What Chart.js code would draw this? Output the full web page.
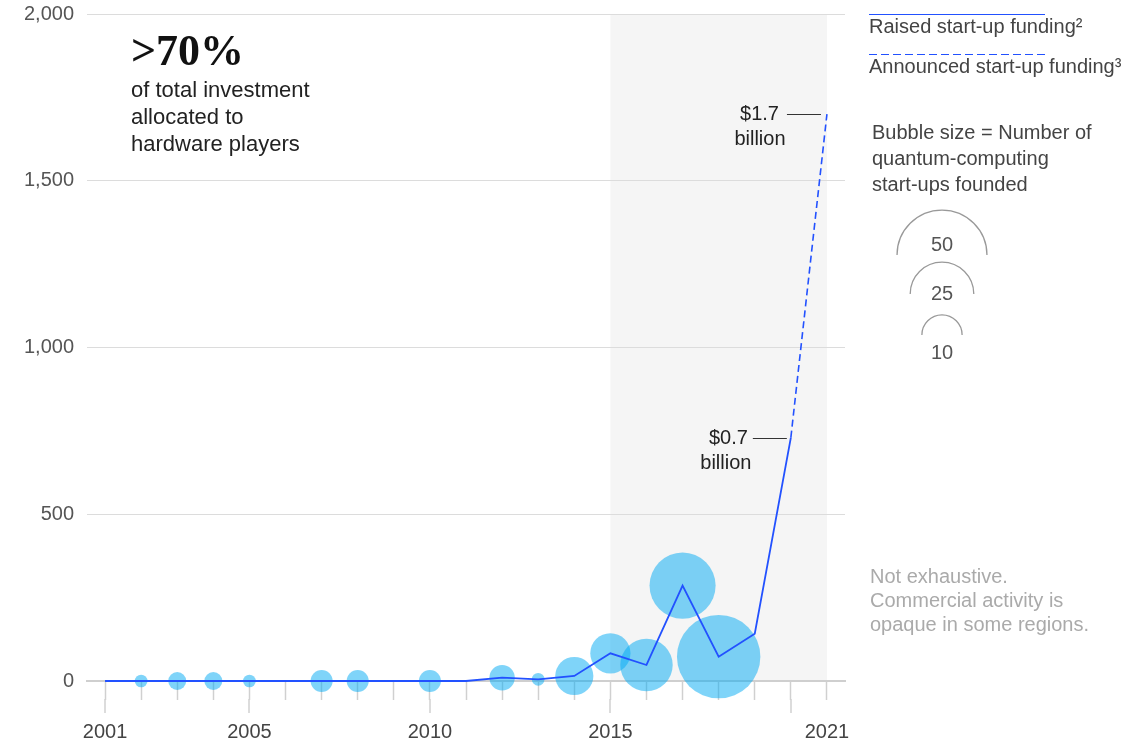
<!DOCTYPE html>
<html>
<head>
<meta charset="utf-8">
<script src="https://cdn.jsdelivr.net/npm/chart.js@4"></script>
<style>
  html, body { margin: 0; padding: 0; background: #fff; }
</style>
</head>
<body>
<canvas id="chart" width="1145" height="739"></canvas>
<script>
// raised start-up funding, $ million
const years = [2001, 2002, 2003, 2004, 2005, 2006, 2007, 2008, 2009, 2010,
               2011, 2012, 2013, 2014, 2015, 2016, 2017, 2018, 2019, 2020];
const raisedFunding = [0, 0, 0, 0, 0, 0, 0, 0, 0, 0,
                       0, 10, 5, 15, 83, 48, 286, 73, 142, 730];

// announced start-up funding
const announcedYears = [2020, 2021];
const announcedFunding = [730, 1700];

// number of quantum-computing start-ups founded
const bubbleYears = [2002, 2003, 2004, 2005, 2007, 2008, 2010, 2012, 2013, 2014, 2015, 2016, 2017, 2018];
const startupsFounded = [1, 2, 2, 1, 3, 3, 3, 4, 1, 9, 10, 17, 27, 43];

const tickYears = years.concat([2021]);
const labelYears = [2001, 2005, 2010, 2015, 2021];
const longTickYears = [2001, 2005, 2010, 2015, 2020];
const legendSizes = [50, 25, 10];
const shadeFrom = 2015, shadeTo = 2021;

const BLUE = '#2251FF';
const SANS = '"Liberation Sans", Arial, sans-serif';
const bubbleScale = 6.36; // px radius per sqrt(start-up)

Chart.defaults.font.family = SANS;

const bubbleData = bubbleYears.map((yr, i) => ({
  x: yr,
  y: raisedFunding[years.indexOf(yr)],
  r: bubbleScale * Math.sqrt(startupsFounded[i])
}));

function text(ctx, s, x, y, font, color, align) {
  ctx.font = font;
  ctx.fillStyle = color;
  ctx.textAlign = align || 'left';
  ctx.textBaseline = 'middle';
  ctx.fillText(s, x, y);
}

const shadePlugin = {
  id: 'shade',
  beforeDraw(chart) {
    const { ctx, chartArea, scales } = chart;
    const x0 = scales.x.getPixelForValue(shadeFrom);
    const x1 = scales.x.getPixelForValue(shadeTo);
    ctx.save();
    ctx.fillStyle = '#f5f5f5';
    ctx.fillRect(x0, chartArea.top, x1 - x0, chartArea.bottom - chartArea.top);
    ctx.restore();
  }
};

const extrasPlugin = {
  id: 'extras',
  afterDraw(chart) {
    const { ctx, chartArea, scales } = chart;
    const xs = scales.x, ys = scales.y;
    ctx.save();

    // longer ticks
    ctx.strokeStyle = '#d0d0d0';
    ctx.lineWidth = 1.5;
    longTickYears.forEach(yr => {
      const px = Math.round(xs.getPixelForValue(yr));
      ctx.beginPath();
      ctx.moveTo(px, chartArea.bottom + 18);
      ctx.lineTo(px, chartArea.bottom + 32);
      ctx.stroke();
    });

    // value call-outs
    ctx.strokeStyle = '#333';
    ctx.lineWidth = 1;
    const callouts = [
      { x: announcedYears[1], v: announcedFunding[1], off: 6, len: 34, tx: 48, bx: 67 },
      { x: announcedYears[0], v: announcedFunding[0], off: 4, len: 34, tx: 43, bx: 65 }
    ];
    callouts.forEach(c => {
      const px = xs.getPixelForValue(c.x);
      const py = Math.round(ys.getPixelForValue(c.v)) + 0.5;
      ctx.beginPath();
      ctx.moveTo(px - c.off - c.len, py);
      ctx.lineTo(px - c.off, py);
      ctx.stroke();
      text(ctx, '$' + (c.v / 1000).toFixed(1), px - c.tx, py, '20px ' + SANS, '#222', 'right');
      text(ctx, 'billion', px - c.bx, py + 25, '20px ' + SANS, '#222', 'center');
    });

    // headline
    ctx.font = 'bold 44px "Liberation Serif", serif';
    ctx.fillStyle = '#111';
    ctx.textAlign = 'left';
    ctx.textBaseline = 'alphabetic';
    ctx.fillText('>70%', 131, 65);
    ['of total investment', 'allocated to', 'hardware players'].forEach((s, i) => {
      text(ctx, s, 131, 91 + i * 27, '22px ' + SANS, '#222');
    });

    // legend
    ctx.strokeStyle = BLUE;
    ctx.lineWidth = 1.2;
    ctx.beginPath();
    ctx.moveTo(869, 14.5); ctx.lineTo(1045, 14.5);
    ctx.stroke();
    ctx.setLineDash([8, 4]);
    ctx.beginPath();
    ctx.moveTo(869, 54.5); ctx.lineTo(1045, 54.5);
    ctx.stroke();
    ctx.setLineDash([]);
    text(ctx, 'Raised start-up funding²', 869, 27, '20px ' + SANS, '#444');
    text(ctx, 'Announced start-up funding³', 869, 67, '20px ' + SANS, '#444');

    ['Bubble size = Number of', 'quantum-computing', 'start-ups founded'].forEach((s, i) => {
      text(ctx, s, 872, 133 + i * 26, '20px ' + SANS, '#444');
    });

    // bubble size key
    const keyCenters = [255, 294, 335];
    const keyLabels = [245, 294, 353];
    ctx.strokeStyle = '#999';
    ctx.lineWidth = 1.3;
    legendSizes.forEach((n, i) => {
      const r = bubbleScale * Math.sqrt(n);
      ctx.beginPath();
      ctx.arc(942, keyCenters[i], r, Math.PI, 2 * Math.PI);
      ctx.stroke();
      text(ctx, String(n), 942, keyLabels[i], '20px ' + SANS, '#555', 'center');
    });

    ['Not exhaustive.', 'Commercial activity is', 'opaque in some regions.'].forEach((s, i) => {
      text(ctx, s, 870, 577 + i * 24, '20px ' + SANS, '#aaa');
    });

    ctx.restore();
  }
};

new Chart(document.getElementById('chart'), {
  type: 'bubble',
  data: {
    datasets: [
      {
        type: 'line',
        data: years.map((yr, i) => ({ x: yr, y: raisedFunding[i] })),
        borderColor: BLUE,
        borderWidth: 1.8,
        pointRadius: 0,
        tension: 0,
        fill: false,
        clip: false,
        order: 0
      },
      {
        type: 'line',
        data: announcedYears.map((yr, i) => ({ x: yr, y: announcedFunding[i] })),
        borderColor: BLUE,
        borderWidth: 1.6,
        borderDash: [7, 4],
        pointRadius: 0,
        tension: 0,
        fill: false,
        clip: false,
        order: 0
      },
      {
        type: 'bubble',
        data: bubbleData,
        backgroundColor: 'rgba(0,169,244,0.5)',
        borderWidth: 0,
        hoverRadius: 0,
        clip: false,
        order: 1
      }
    ]
  },
  options: {
    responsive: false,
    animation: false,
    events: [],
    layout: { autoPadding: false, padding: { top: 14, right: 300, left: 0, bottom: 0 } },
    plugins: {
      legend: { display: false },
      tooltip: { enabled: false }
    },
    scales: {
      x: {
        type: 'linear',
        min: 2000.5,
        max: 2021.5,
        afterFit(scale) { scale.height = 58; },
        afterBuildTicks(scale) { scale.ticks = tickYears.map(v => ({ value: v })); },
        grid: {
          drawOnChartArea: false,
          drawTicks: true,
          tickLength: 19,
          tickColor: '#d0d0d0',
          tickWidth: 1.5
        },
        border: { display: true, color: '#cfcfcf', width: 2 },
        ticks: {
          autoSkip: false,
          maxRotation: 0,
          padding: 20,
          color: '#444',
          font: { size: 20 },
          callback: v => labelYears.includes(v) ? String(v) : ''
        }
      },
      y: {
        min: 0,
        max: 2000,
        afterFit(scale) {
          scale.width = 87;
          scale.paddingTop = 0;
          scale.paddingBottom = 0;
        },
        grid: { color: '#dcdcdc', drawTicks: false, lineWidth: 1 },
        border: { display: false },
        ticks: {
          stepSize: 500,
          padding: 13,
          color: '#555',
          font: { size: 20 }
        }
      }
    }
  },
  plugins: [shadePlugin, extrasPlugin]
});
</script>
</body>
</html>
